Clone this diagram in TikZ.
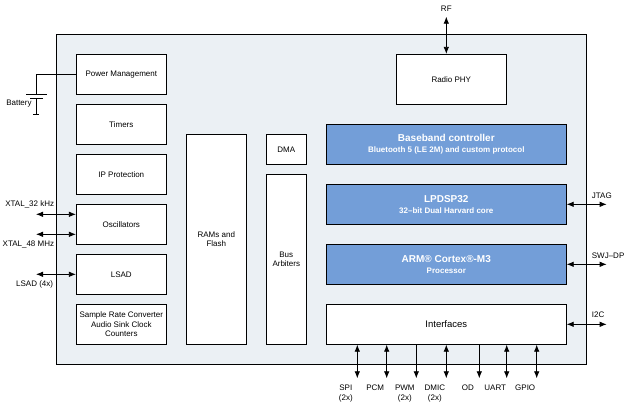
\documentclass[tikz,border=0pt]{standalone}
\usepackage{fontspec}
\setmainfont{Liberation Sans}
\usetikzlibrary{arrows.meta}
\usetikzlibrary{positioning}
\definecolor{chipbg}{RGB}{235,240,244}
\definecolor{coreblue}{RGB}{115,158,216}
\tikzstyle{every node}=[font=\fontsize{8}{9.6}\selectfont, inner sep=1pt]
\tikzstyle{every path}=[line width=0.8pt]
\tikzstyle{blk}=[draw, fill=white, align=center]
\tikzstyle{core}=[draw, fill=coreblue, text=white, align=center, font=\bfseries\fontsize{8}{11}\selectfont, minimum width=240pt, minimum height=40pt]
\tikzstyle{twoway}=[{Latex[length=7pt,width=5.5pt]}-{Latex[length=7pt,width=5.5pt]}]
\tikzstyle{oneway}=[-{Latex[length=7pt,width=5.5pt]}]

\begin{document}
\begin{tikzpicture}[x=1pt,y=-1pt]
  \useasboundingbox (0,0) rectangle (631,408);
  % chip outline
  \draw[fill=chipbg] (56.3,34.3) rectangle (586.7,364.3);

  % left column
  \foreach \nm/\txt [count=\i] in {pm/Power Management, tmr/Timers, ipp/IP Protection,
      osc/Oscillators, lsad/LSAD, src/{Sample Rate Converter\\Audio Sink Clock\\Counters}}
   {
    \node[blk, minimum width=90pt, minimum height=40pt] (\nm) at (121.3,24.3+50*\i) {\txt};
   }

  % memories and bus
  \node[blk, minimum width=60pt, minimum height=210pt] (ram) at (216.3,239.3) {RAMs and\\Flash};
  \node[blk, minimum width=40pt, minimum height=30pt] (dma) at (286.3,149.3) {DMA};
  \node[blk, minimum width=40pt, minimum height=170pt] (bus) at (286.3,259.3) {Bus\\Arbiters};

  % radio and cores
  \node[blk, minimum width=110pt, minimum height=50pt] (phy) at (451.3,79.3) {Radio PHY};
  \node[core] (bb) at (446.3,144.3) {{\fontsize{10}{11}\selectfont Baseband controller}\\Bluetooth 5 (LE 2M) and custom protocol};
  \node[core] (dsp) at (446.3,204.3) {{\fontsize{10}{11}\selectfont LPDSP32}\\32–bit Dual Harvard core};
  \node[core] (arm) at (446.3,264.3) {{\fontsize{10}{11}\selectfont ARM® Cortex®-M3}\\Processor};
  \node[blk, minimum width=240pt, minimum height=40pt, font=\fontsize{9.5}{11}\selectfont] (intf) at (446.3,324.3) {Interfaces};

  % battery
  \coordinate (bt) at (36,94.3);
  \draw (pm.west) -| (bt);
  \draw (26,94.3) -- (46.7,94.3);
  \draw (30.3,98.3) -- (42.7,98.3);
  \draw (36,98.3) -- (36,114.3);
  \draw (33.3,114.3) -- (39,114.3);
  \node[anchor=east] (btlbl) at (33,104) {Battery};

  % left pins
  \coordinate (x32) at (36,214.3);
  \coordinate (x48) at (36,234.3);
  \coordinate (adc) at (36,274.3);
  \draw[twoway] (x32) -- (x32 -| osc.west);
  \draw[twoway] (x48) -- (x48 -| osc.west);
  \draw[twoway] (adc) -- (lsad.west);
  \node[anchor=east] (x32lbl) at (55.5,204.3) {XTAL\_32 kHz};
  \node[anchor=east] (x48lbl) at (55.5,244.3) {XTAL\_48 MHz};
  \node[anchor=east] (adclbl) at (54.5,284.3) {LSAD (4x)};

  % RF
  \coordinate (rf) at (446.3,16.7);
  \draw[twoway] (rf) -- (rf |- phy.north);
  \node (rflbl) at (446.3,9) {RF};

  % right pins
  \coordinate (jtag) at (606.7,204.3);
  \coordinate (swj) at (606.7,264.3);
  \coordinate (iic) at (606.7,324.3);
  \draw[twoway] (dsp.east) -- (jtag);
  \draw[twoway] (arm.east) -- (swj);
  \draw[twoway] (intf.east) -- (iic);
  \node[anchor=west] (jtaglbl) at (590.5,195.5) {JTAG};
  \node[anchor=west] (swjlbl) at (590.5,256) {SWJ–DP};
  \node[anchor=west] (iiclbl) at (590.5,314.5) {I2C};

  % bottom pins
  \foreach \xx/\tip/\txt in {357.3/twoway/{SPI\\(2x)}, 386.7/twoway/PCM, 416.3/oneway/{PWM\\(2x)},
      446.3/twoway/{DMIC\\(2x)}, 479.3/oneway/OD, 506.7/twoway/UART, 536.7/twoway/GPIO}
   {
    \coordinate (io) at (\xx,378.3);
    \draw[\tip] (io |- intf.south) -- (io);
    \node[anchor=north, align=center] at ({\xx-11.5},383.5) {\txt};
   }
\end{tikzpicture}
\end{document}
